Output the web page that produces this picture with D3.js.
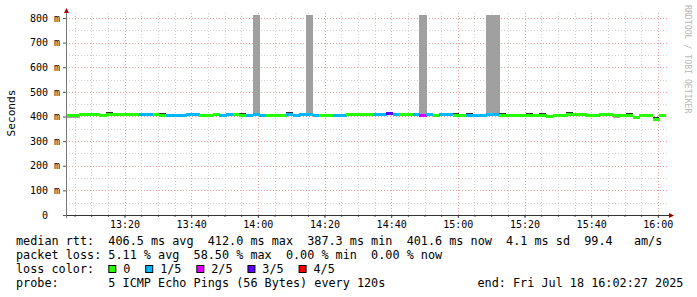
<!DOCTYPE html>
<html>
<head>
<meta charset="utf-8">
<script src="https://cdn.jsdelivr.net/npm/d3@7"></script>
<style>
body { margin: 0; background: #fff; }
svg text { font-family: "DejaVu Sans Mono", monospace; white-space: pre; }
</style>
</head>
<body>
<div class="svg-container"></div>
<script>
var startTime = new Date(2025, 6, 18, 13, 2, 27);
var endTime = new Date(2025, 6, 18, 16, 2, 27);
var stepSeconds = 120;

// median rtt per 2 min step (ms)
var median = [403,405,407,410,407,403,407,410,408,410,
              410,409,409,407,406,403,403,403,410,410,
              405,405,409,404,409,407,404,405,409,406,
              405,405,403,407,404,407,408,406,404,404,
              406,406,410,410,410,408,409,409,412,409,
              408,408,410,406,409,406,410,410,405,405,
              406,404,404,409,409,406,405,406,404,404,
              405,406,401,406,406,407,410,407,405,406,
              410,410,402,405,404,396,404,404,387,402];

// lost pings out of 5 per step
var loss = [0,0,0,0,0,0,0,0,0,0,
            0,1,1,0,0,1,1,1,1,1,
            0,0,0,1,1,0,0,1,1,1,
            0,0,0,1,1,1,1,1,0,0,
            1,1,0,0,0,0,1,1,3,1,
            0,0,1,2,1,0,1,1,0,0,
            1,1,1,1,1,0,0,0,0,0,
            0,0,0,0,0,0,0,0,0,0,
            0,0,0,0,0,0,0,0,0,0];

// smoke: fastest and slowest ping per step (ms)
var smokeLo = [392,395,404,406,404,400,404,406,404,407,
               407,405,405,404,402,399,399,400,406,406,
               402,402,405,401,405,404,398,402,404,402,
               402,401,399,404,401,403,402,402,401,401,
               398,398,406,406,406,404,405,402,408,405,
               405,405,406,402,405,403,406,406,402,402,
               402,396,400,404,404,402,402,402,396,400,
               401,402,397,403,403,403,406,403,396,402,
               406,406,392,401,400,392,400,400,380,398];
var smokeHi = [406,408,410,412,409,406,410,412,410,412,
               412,411,411,409,409,406,406,406,412,412,
               408,408,411,407,411,409,407,408,900,408,
               408,408,406,410,407,410,900,409,407,407,
               409,409,412,412,412,411,411,412,414,412,
               411,411,412,900,411,409,412,412,408,408,
               409,407,407,900,900,409,408,409,407,407,
               408,409,404,409,409,410,412,410,408,409,
               412,412,405,408,407,400,407,407,391,405];
var darkSteps = [6, 14, 26, 33, 58, 60, 65, 69, 71, 75, 84, 88];

var lossLabels = ["0", "1/5", "2/5", "3/5", "4/5"];
var lossColors = ["#26ff00", "#00b8ff", "#dd00ff", "#5e00ff", "#ff0000"];

var statLines = [
    "median rtt:  406.5 ms avg  412.0 ms max  387.3 ms min  401.6 ms now  4.1 ms sd  99.4   am/s",
    "packet loss: 5.11 % avg  58.50 % max  0.00 % min  0.00 % now"
];
var probeText = "probe:       5 ICMP Echo Pings (56 Bytes) every 120s";
var endText = "end: Fri Jul 18 16:02:27 2025";
var yMax = 812;

function render(){
    var svg = d3.select(".svg-container").append("svg")
        .attr("width", 697)
        .attr("height", 297);

    var x = d3.scaleTime().domain([startTime, endTime]).range([66, 666]);
    var y = d3.scaleLinear().domain([0, yMax]).range([215, 15]);
    var px = function(v){ return Math.round(v) + 0.5; };

    // grid
    var grid = svg.append("g");
    var minorT = x.ticks(d3.timeMinute.every(5)).filter(function(d){ return d.getMinutes() % 20 != 0; });
    var majorT = x.ticks(d3.timeMinute.every(20));
    var minorY = y.ticks(16).filter(function(d){ return d % 100 != 0; });
    var majorY = y.ticks(8).filter(function(d){ return d > 0; });

    grid.selectAll(".vmin").data(minorT).enter().append("line")
        .attr("x1", d => px(x(d))).attr("x2", d => px(x(d)))
        .attr("y1", 215).attr("y2", 13)
        .style("stroke", "#d0d0d0").style("stroke-dasharray", "1,2");
    grid.selectAll(".hmin").data(minorY).enter().append("line")
        .attr("x1", 66).attr("x2", 669)
        .attr("y1", d => px(y(d))).attr("y2", d => px(y(d)))
        .style("stroke", "#d0d0d0").style("stroke-dasharray", "1,2");
    grid.selectAll(".vmaj").data(majorT).enter().append("line")
        .attr("x1", d => px(x(d))).attr("x2", d => px(x(d)))
        .attr("y1", 215).attr("y2", 13)
        .style("stroke", "#e6a0a0").style("stroke-dasharray", "1,2");
    grid.selectAll(".hmaj").data(majorY).enter().append("line")
        .attr("x1", 66).attr("x2", 669)
        .attr("y1", d => px(y(d))).attr("y2", d => px(y(d)))
        .style("stroke", "#e6a0a0").style("stroke-dasharray", "1,2");

    svg.append("clipPath").attr("id", "plot")
        .append("rect").attr("x", 66).attr("y", 15).attr("width", 600).attr("height", 200);

    var steps = median.map(function(m, i){
        var t0 = new Date(+startTime + i * stepSeconds * 1000);
        return {
            t0: t0,
            t1: new Date(+t0 + stepSeconds * 1000),
            med: m, lo: smokeLo[i], hi: smokeHi[i], loss: loss[i],
            dark: darkSteps.indexOf(i) >= 0
        };
    });

    var plot = svg.append("g")
        .attr("clip-path", "url(#plot)")
        .attr("shape-rendering", "crispEdges");

    // smoke
    plot.selectAll(".smoke").data(steps).enter().append("rect")
        .attr("x", d => x(d.t0))
        .attr("width", d => x(d.t1) - x(d.t0) + 0.5)
        .attr("y", d => y(d.hi))
        .attr("height", d => y(d.lo) - y(d.hi))
        .style("fill", "#a0a0a0");

    // median coloured by loss
    plot.selectAll(".med").data(steps).enter().append("rect")
        .attr("x", d => x(d.t0))
        .attr("width", d => x(d.t1) - x(d.t0) + 0.5)
        .attr("y", d => y(d.med) - 1.5)
        .attr("height", 3)
        .style("fill", d => lossColors[d.loss]);

    plot.selectAll(".dark").data(steps.filter(d => d.dark)).enter().append("rect")
        .attr("x", d => x(d.t0))
        .attr("width", d => x(d.t1) - x(d.t0))
        .attr("y", d => y(d.med) - 2.5)
        .attr("height", 1)
        .style("fill", "#333");

    // Y axis
    var yAxis = svg.append("g")
        .attr("transform", "translate(66,0)")
        .call(d3.axisLeft(y).tickValues(y.ticks(8)).tickSize(3).tickPadding(3)
            .tickFormat(d => d ? d + " m" : "0  "));
    yAxis.select(".domain").remove();
    yAxis.selectAll("line").style("stroke", "#555");
    yAxis.selectAll("text").style("font-size", "10px").style("fill", "#000");

    // X axis
    var xAxis = svg.append("g")
        .attr("transform", "translate(0,215)")
        .call(d3.axisBottom(x).ticks(d3.timeMinute.every(20)).tickSize(3).tickPadding(3)
            .tickFormat(d3.timeFormat("%H:%M")));
    xAxis.select(".domain").remove();
    xAxis.selectAll("line").style("stroke", "#555");
    xAxis.selectAll("text").style("font-size", "10px").style("fill", "#000");

    svg.append("g").attr("transform", "translate(0,215)")
        .call(d3.axisBottom(x).ticks(d3.timeMinute.every(5)).tickSize(2).tickFormat(""))
        .call(g => g.select(".domain").remove())
        .selectAll("line").style("stroke", "#555");

    // axis lines and arrows
    svg.append("line").attr("x1", 66).attr("x2", 670).attr("y1", 215.5).attr("y2", 215.5)
        .style("stroke", "#333");
    svg.append("line").attr("x1", 66.5).attr("x2", 66.5).attr("y1", 218).attr("y2", 12)
        .style("stroke", "#777");
    svg.append("path").attr("d", "M64,13 L66.5,8 L69,13 Z").style("fill", "#a00000");
    svg.append("path").attr("d", "M669,213 L674,215.5 L669,218 Z").style("fill", "#a00000");

    svg.append("text")
        .attr("transform", "translate(15,113) rotate(-90)")
        .style("text-anchor", "middle")
        .style("font-size", "11.2px")
        .text("Seconds");

    svg.append("text")
        .attr("transform", "translate(685,5) rotate(90)")
        .style("font-size", "8.2px")
        .style("fill", "#b8b8b8")
        .text("RRDTOOL / TOBI OETIKER");

    // legend
    var charW = 7.1;
    var legend = svg.append("g").style("font-size", "11.8px");
    statLines.forEach(function(s, i){
        legend.append("text").attr("x", 16).attr("y", 245 + i * 14).text(s);
    });
    legend.append("text").attr("x", 16).attr("y", 273).text("loss color:");
    var col = 13;
    lossLabels.forEach(function(l, i){
        legend.append("rect")
            .attr("x", 16 + col * charW + 0.5).attr("y", 265.5)
            .attr("width", 7).attr("height", 7)
            .style("fill", lossColors[i]).style("stroke", "#000");
        col += 2.1;
        legend.append("text").attr("x", 16 + col * charW).attr("y", 273).text(l);
        col += l.length + 2.1;
    });
    legend.append("text").attr("x", 16).attr("y", 287).text(probeText);
    legend.append("text").attr("x", 16 + 65 * charW).attr("y", 287).text(endText);
}

render();
</script>
</body>
</html>
